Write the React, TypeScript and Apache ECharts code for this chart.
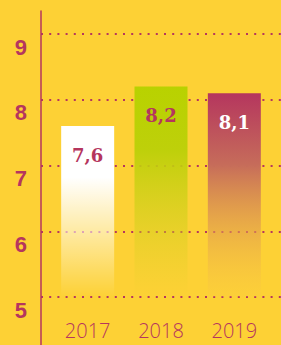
import React, { useEffect, useRef } from "react";
import * as echarts from "echarts";

const years = ["2017", "2018", "2019"];
const values = [7.6, 8.2, 8.1];
const valueLabels = ["7,6", "8,2", "8,1"];
const yTicks = [5, 6, 7, 8, 9];

const BG = "#fdd135";
const CRIMSON = "#b5365e";

const fills = [
  new echarts.graphic.LinearGradient(0, 0, 0, 1, [
    { offset: 0, color: "rgba(255,255,255,1)" },
    { offset: 0.3, color: "rgba(255,255,255,1)" },
    { offset: 1, color: "rgba(255,255,255,0)" },
  ]),
  new echarts.graphic.LinearGradient(0, 0, 0, 1, [
    { offset: 0, color: "rgba(184,210,0,1)" },
    { offset: 0.3, color: "rgba(190,208,10,1)" },
    { offset: 1, color: "rgba(220,208,40,0)" },
  ]),
  new echarts.graphic.LinearGradient(0, 0, 0, 1, [
    { offset: 0, color: "rgba(181,54,94,1)" },
    { offset: 0.35, color: "rgba(198,108,90,1)" },
    { offset: 1, color: "rgba(250,200,70,0.2)" },
  ]),
];
const labelColors = [CRIMSON, CRIMSON, "#ffffff"];

export default function App() {
  const ref = useRef<HTMLDivElement>(null);
  useEffect(() => {
    document.body.style.margin = "0";
    document.body.style.background = BG;
    const chart = echarts.init(ref.current!, null, { renderer: "svg" });
    chart.setOption({
      animation: false,
      backgroundColor: BG,
      grid: [
        { left: 41, right: 0, top: 34, bottom: 48 },
        { left: 51, right: 10, top: 34, bottom: 48 },
        { left: 41, right: 0, top: 11, bottom: 0 },
      ],
      xAxis: [
        { type: "category", gridIndex: 0, data: years, show: false },
        {
          type: "category",
          gridIndex: 1,
          data: years,
          axisLine: { show: false },
          axisTick: { show: false },
          axisLabel: {
            color: CRIMSON,
            fontSize: 20,
            fontWeight: 300,
            fontFamily: "Open Sans",
            margin: 23,
          },
        },
        { type: "category", gridIndex: 2, data: years, show: false },
      ],
      yAxis: [
        {
          type: "value",
          gridIndex: 0,
          min: yTicks[0],
          max: yTicks[yTicks.length - 1],
          interval: 1,
          axisLine: { show: false },
          axisTick: { show: false },
          splitLine: {
            show: true,
            lineStyle: { color: CRIMSON, width: 2, type: [2, 6.2], cap: "butt" },
          },
          axisLabel: {
            color: CRIMSON,
            fontSize: 22,
            fontWeight: "bold",
            fontFamily: "Liberation Sans",
            margin: 14,
            verticalAlign: "top",
            lineHeight: 26,
          },
        },
        {
          type: "value",
          gridIndex: 1,
          min: yTicks[0],
          max: yTicks[yTicks.length - 1],
          show: false,
          splitLine: { show: false },
        },
        {
          type: "value",
          gridIndex: 2,
          min: 0,
          max: 1,
          axisLine: { show: true, lineStyle: { color: CRIMSON, width: 1.5 } },
          axisTick: { show: false },
          axisLabel: { show: false },
          splitLine: { show: false },
        },
      ],
      series: [
        {
          type: "bar",
          xAxisIndex: 1,
          yAxisIndex: 1,
          barWidth: 53,
          data: values.map((v, i) => ({
            value: v,
            itemStyle: { color: fills[i] },
            label: {
              show: true,
              position: "insideTop",
              distance: 20,
              formatter: valueLabels[i],
              color: labelColors[i],
              fontSize: 18,
              fontWeight: "bold",
              fontFamily: "DejaVu Serif",
            },
          })),
        },
      ],
    });
    return () => chart.dispose();
  }, []);
  return <div ref={ref} style={{ width: 281, height: 345 }} />;
}
